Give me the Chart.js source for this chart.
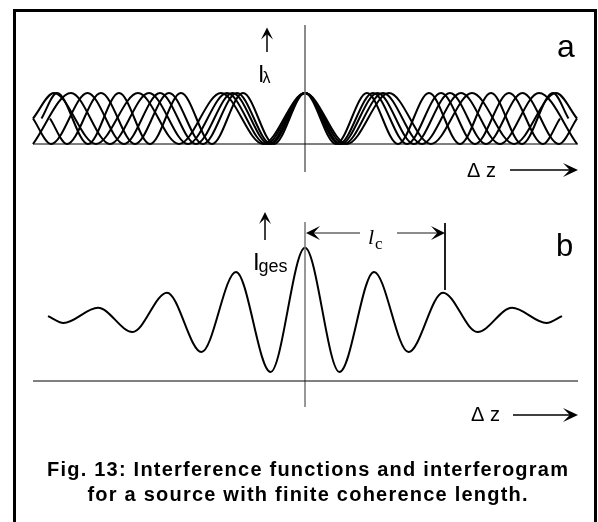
<!DOCTYPE html>
<html><head><meta charset="utf-8">
<script src="https://cdn.jsdelivr.net/npm/chart.js@4"></script>
<style>html,body{margin:0;padding:0;background:#fff;}canvas{display:block}</style>
</head><body>
<canvas id="c" width="598" height="522"></canvas>
<script>
// ---------- DATA ----------
// Panel a: five single-wavelength interference functions I_lambda (extrema + ends), x = delta z (arb. units)
const aX1 = [-2.635,-2.48,-2.17,-1.86,-1.55,-1.24,-0.93,-0.62,-0.31,0,0.31,0.62,0.93,1.24,1.55,1.86,2.17,2.48,2.635];
const aY1 = [1,2,0,2,0,2,0,2,0,2,0,2,0,2,0,2,0,2,1];
const aX2 = [-2.55,-2.38,-2.04,-1.70,-1.36,-1.02,-0.68,-0.34,0,0.34,0.68,1.02,1.36,1.70,2.04,2.38,2.55];
const aY2 = [1,0,2,0,2,0,2,0,2,0,2,0,2,0,2,0,1];
const aX3 = [-2.72,-2.54,-2.175,-1.81,-1.45,-1.09,-0.725,-0.36,0,0.36,0.725,1.09,1.45,1.81,2.175,2.54,2.72];
const aY3 = [1,0,2,0,2,0,2,0,2,0,2,0,2,0,2,0,1];
const aX4 = [-2.72,-2.34,-1.95,-1.56,-1.17,-0.78,-0.39,0,0.39,0.78,1.17,1.56,1.95,2.34,2.72];
const aY4 = [0,2,0,2,0,2,0,2,0,2,0,2,0,2,0];
const aX5 = [-2.72,-2.51,-2.09,-1.67,-1.26,-0.84,-0.42,0,0.42,0.84,1.26,1.67,2.09,2.51,2.72];
const aY5 = [1,2,0,2,0,2,0,2,0,2,0,2,0,2,1];
// Panel b: interferogram I_ges (extrema + ends)
const bX = [-2.57,-2.415,-2.07,-1.725,-1.38,-1.035,-0.69,-0.345,0,0.345,0.69,1.035,1.38,1.725,2.07,2.415,2.57];
const bY = [0.94,0.84,1.06,0.71,1.28,0.42,1.58,0.13,1.93,0.13,1.58,0.42,1.28,0.71,1.06,0.84,0.94];
// axis lines
const baseX = [-2.72, 2.73];
const axisAY = [4.667, -1.098];
const axisBY = [2.304, -0.377];
const lcX = 1.40;            // coherence length marker
const lcY = [2.29, 1.32];
// texts
const labelA = 'a', labelB = 'b';
const axisLabel = '\u0394 z';
const caption = ['Fig. 13: Interference functions and interferogram', 'for a source with finite coherence length.'];

// ---------- LAYOUT ----------
const W = 598, H = 522, PXX = 100, CX = 305;
const A_BASE = 144, A_PX = 25.5, B_BASE = 381, B_PX = 69;

const pts = (xs, ys) => xs.map((x, i) => ({x, y: ys[i]}));
const curve = (xs, ys, axis) => ({data: pts(xs, ys), yAxisID: axis, borderColor: '#000', borderWidth: 2,
  cubicInterpolationMode: 'monotone', pointRadius: 0, fill: false});
const seg = (xs, ys, axis, color, w) => ({data: pts(xs, ys), yAxisID: axis, borderColor: color, borderWidth: w,
  pointRadius: 0, tension: 0, fill: false});

function head(ctx, x, y, ang, len, w) {
  ctx.save(); ctx.translate(x, y); ctx.rotate(ang);
  ctx.beginPath(); ctx.moveTo(0, 0); ctx.lineTo(-len, -w); ctx.lineTo(-len * 0.55, 0); ctx.lineTo(-len, w);
  ctx.closePath(); ctx.fill(); ctx.restore();
}
function line(ctx, x1, y1, x2, y2, color, lw) {
  ctx.save(); ctx.strokeStyle = color; ctx.lineWidth = lw; ctx.beginPath();
  ctx.moveTo(x1, y1); ctx.lineTo(x2, y2); ctx.stroke(); ctx.restore();
}
function text(ctx, s, x, y, font, align) {
  ctx.save(); ctx.font = font; ctx.fillStyle = '#000'; ctx.textAlign = align || 'left';
  ctx.textBaseline = 'alphabetic'; ctx.fillText(s, x, y); ctx.restore();
}

const annot = {
  id: 'annot',
  beforeDraw(chart) {
    const c = chart.ctx; c.save(); c.fillStyle = '#fff'; c.fillRect(0, 0, chart.width, chart.height); c.restore();
  },
  afterDatasetsDraw(chart) {
    const ctx = chart.ctx, sx = chart.scales.x, sa = chart.scales.ya, sb = chart.scales.yb;
    const X = v => sx.getPixelForValue(v), YA = v => sa.getPixelForValue(v), YB = v => sb.getPixelForValue(v);
    ctx.save(); ctx.fillStyle = '#000';
    // frame
    ctx.strokeStyle = '#000'; ctx.lineWidth = 3; ctx.beginPath();
    ctx.moveTo(14.5, H + 5); ctx.lineTo(14.5, 10.5); ctx.lineTo(595.5, 10.5); ctx.lineTo(595.5, H + 5); ctx.stroke();
    // panel a: up arrow + I_lambda
    line(ctx, X(-0.38), YA(3.61), X(-0.38), YA(4.45), '#000', 1.5);
    head(ctx, X(-0.38), YA(4.57), -Math.PI / 2, 12, 6);
    text(ctx, 'I', X(-0.47), YA(2.43), '23px "Liberation Sans"');
    text(ctx, '\u03bb', X(-0.425), YA(2.39), '16px "Liberation Sans"');
    text(ctx, labelA, X(2.52), YA(3.41), '32px "Liberation Sans"');
    text(ctx, axisLabel, X(1.62), YA(-1.29), '20px "Liberation Sans"');
    line(ctx, X(2.05), YA(-1.02), X(2.68), YA(-1.02), '#000', 1.5);
    head(ctx, X(2.73), YA(-1.02), 0, 15, 7);
    // panel b
    line(ctx, X(-0.40), YB(2.043), X(-0.40), YB(2.36), '#000', 1.5);
    head(ctx, X(-0.40), YB(2.449), -Math.PI / 2, 12, 6);
    text(ctx, 'I', X(-0.52), YB(1.609), '24px "Liberation Sans"');
    text(ctx, 'ges', X(-0.465), YB(1.58), '18px "Liberation Sans"');
    text(ctx, labelB, X(2.51), YB(1.81), '31px "Liberation Sans"');
    // l_c arrow
    const ly = YB(2.145);
    line(ctx, X(0.05), ly, X(0.55), ly, '#666', 1.5);
    line(ctx, X(0.92), ly, X(1.35), ly, '#666', 1.5);
    head(ctx, X(0.01), ly, Math.PI, 14, 7);
    head(ctx, X(1.40), ly, 0, 14, 7);
    text(ctx, 'l', X(0.63), YB(1.99), 'italic 22px "Liberation Serif"');
    text(ctx, 'c', X(0.70), YB(1.92), '17px "Liberation Serif"');
    text(ctx, axisLabel, X(1.66), YB(-0.58), '20px "Liberation Sans"');
    line(ctx, X(2.08), YB(-0.493), X(2.68), YB(-0.493), '#000', 1.5);
    head(ctx, X(2.73), YB(-0.493), 0, 15, 7);
    // caption
    ctx.font = 'bold 20px "Liberation Sans"';
    const w0 = ctx.measureText(caption[0]).width;
    const ls = Math.max(0, (521 - w0) / (caption[0].length - 1));
    ctx.letterSpacing = ls.toFixed(2) + 'px';
    ctx.textAlign = 'center';
    ctx.fillText(caption[0], X(0.025) + ls / 2, YB(-1.377));
    ctx.fillText(caption[1], X(0.025) + ls / 2, YB(-1.739));
    ctx.restore();
  }
};

new Chart(document.getElementById('c'), {
  type: 'line',
  data: {datasets: [
    seg(baseX, [0, 0], 'ya', '#000', 1),
    seg([0, 0], axisAY, 'ya', '#666', 1.5),
    curve(aX1, aY1, 'ya'), curve(aX2, aY2, 'ya'), curve(aX3, aY3, 'ya'), curve(aX4, aY4, 'ya'), curve(aX5, aY5, 'ya'),
    seg(baseX, [0, 0], 'yb', '#000', 1),
    seg([0, 0], axisBY, 'yb', '#777', 1.5),
    seg([lcX, lcX], lcY, 'yb', '#000', 1),
    curve(bX, bY, 'yb')
  ]},
  options: {
    responsive: false, animation: false, devicePixelRatio: 1,
    layout: {padding: 0},
    plugins: {legend: {display: false}, tooltip: {enabled: false}, title: {display: false}},
    scales: {
      x: {type: 'linear', display: false, min: -CX / PXX, max: (W - CX) / PXX},
      ya: {type: 'linear', display: false, min: -(H - A_BASE) / A_PX, max: A_BASE / A_PX},
      yb: {type: 'linear', display: false, min: -(H - B_BASE) / B_PX, max: B_BASE / B_PX}
    }
  },
  plugins: [annot]
});
</script>
</body></html>
